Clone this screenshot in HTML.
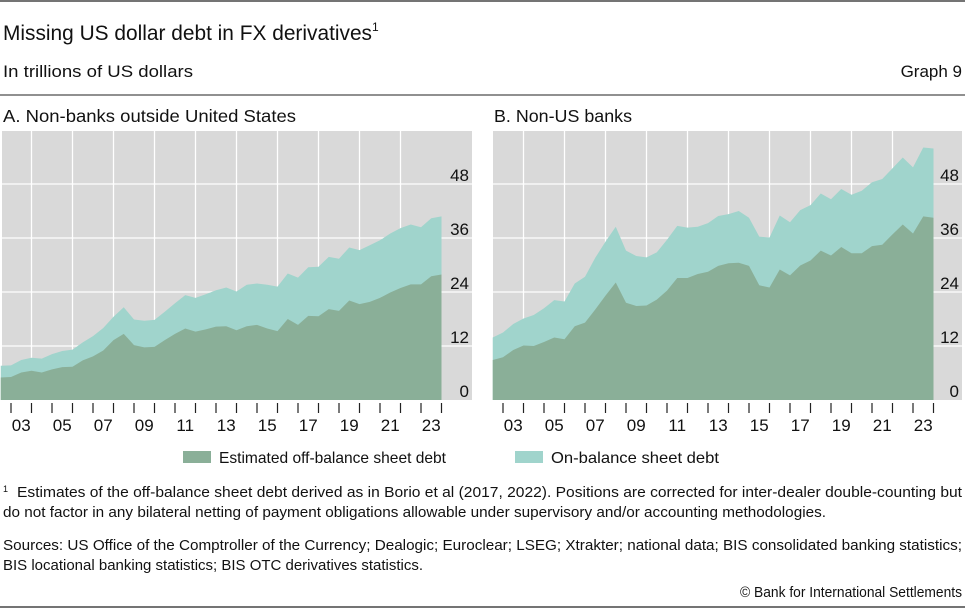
<!DOCTYPE html>
<html><head><meta charset="utf-8"><style>
body{margin:0;background:#fff;}
svg{display:block;font-family:"Liberation Sans",sans-serif;}
</style></head><body>
<svg id="c" width="965" height="610" xmlns="http://www.w3.org/2000/svg">
<line x1="0" y1="1" x2="965" y2="1" stroke="#222" stroke-width="1.2"/>
<text x="3" y="40" font-size="21" fill="#111"><tspan textLength="369" lengthAdjust="spacingAndGlyphs">Missing US dollar debt in FX derivatives</tspan><tspan font-size="12" dy="-9">1</tspan></text>
<text x="3" y="77" font-size="17" fill="#111" textLength="190" lengthAdjust="spacingAndGlyphs">In trillions of US dollars</text>
<text x="962" y="77" font-size="17" fill="#111" text-anchor="end">Graph 9</text>
<line x1="0" y1="95" x2="965" y2="95" stroke="#222" stroke-width="1"/>
<text x="3" y="122" font-size="17.5" fill="#111" textLength="293" lengthAdjust="spacingAndGlyphs">A. Non-banks outside United States</text>
<text x="494" y="122" font-size="17.5" fill="#111" textLength="138" lengthAdjust="spacingAndGlyphs">B. Non-US banks</text>
<g id="pa"></g>
<g id="pb"></g>
<rect x="183" y="451" width="28" height="12" fill="#8aaf98"/>
<text x="219" y="463" font-size="16" fill="#111" textLength="227" lengthAdjust="spacingAndGlyphs">Estimated off-balance sheet debt</text>
<rect x="515" y="451" width="28" height="12" fill="#a0d4cc"/>
<text x="551" y="463" font-size="16" fill="#111" textLength="168" lengthAdjust="spacingAndGlyphs">On-balance sheet debt</text>
<g font-size="15" fill="#111">
<text x="3" y="492" font-size="9">1</text>
<text x="17" y="497" textLength="945" lengthAdjust="spacingAndGlyphs">Estimates of the off-balance sheet debt derived as in Borio et al (2017, 2022). Positions are corrected for inter-dealer double-counting but</text>
<text x="3" y="517" textLength="823" lengthAdjust="spacingAndGlyphs">do not factor in any bilateral netting of payment obligations allowable under supervisory and/or accounting methodologies.</text>
<text x="3" y="550" textLength="959" lengthAdjust="spacingAndGlyphs">Sources: US Office of the Comptroller of the Currency; Dealogic; Euroclear; LSEG; Xtrakter; national data; BIS consolidated banking statistics;</text>
<text x="3" y="570" textLength="420" lengthAdjust="spacingAndGlyphs">BIS locational banking statistics; BIS OTC derivatives statistics.</text>
<text x="962" y="597" text-anchor="end" textLength="222" lengthAdjust="spacingAndGlyphs">© Bank for International Settlements</text>
</g>
<line x1="0" y1="607" x2="965" y2="607" stroke="#222" stroke-width="1.2"/>
</svg>
<script>
const yTicks=[0,12,24,36,48];
const xLabels=["03","05","07","09","11","13","15","17","19","21","23"];
const startYear=2002.5;
const aOff=[5.0,5.1,6.1,6.5,6.1,6.8,7.3,7.4,8.8,9.7,11.0,13.3,14.7,12.2,11.7,11.8,13.3,14.7,15.9,15.2,15.7,16.3,16.4,15.5,16.4,16.7,15.9,15.3,18.0,16.7,18.7,18.6,20.2,19.8,22.1,21.3,21.8,22.7,23.9,24.9,25.7,25.7,27.5,27.9];
const aTot=[7.6,7.7,8.9,9.4,9.2,10.2,10.9,11.2,12.8,14.2,16.0,18.5,20.6,17.9,17.6,17.8,19.6,21.5,23.3,22.7,23.5,24.4,25.0,24.1,25.6,25.9,25.6,25.2,28.1,27.2,29.5,29.6,31.8,31.4,33.9,33.3,34.4,35.5,37.0,38.2,39.0,38.4,40.4,40.8];
const bOff=[8.9,9.5,11.1,12.1,12.0,12.9,13.9,13.5,16.4,17.2,20.1,23.2,26.1,21.6,20.9,21.0,22.3,24.3,27.1,27.1,28.0,28.5,29.8,30.4,30.5,29.8,25.5,25.0,29.0,27.7,29.9,31.0,33.2,32.1,34.0,32.6,32.6,34.2,34.5,36.8,39.0,37.0,40.8,40.5];
const bTot=[13.9,15.0,16.9,18.1,18.9,20.4,22.2,21.9,25.9,27.4,31.6,35.2,38.5,33.2,32.0,31.7,32.8,35.6,38.7,38.3,38.5,39.3,40.9,41.3,42.0,40.5,36.3,36.1,41.0,39.5,42.2,43.3,45.9,44.6,46.9,45.6,46.5,48.4,49.1,51.5,53.9,51.7,56.1,55.9];
const NS="http://www.w3.org/2000/svg";
function mk(t,a,p){const e=document.createElementNS(NS,t);for(const k in a)e.setAttribute(k,a[k]);p.appendChild(e);return e;}
function panel(g,left,right,x2003,off,tot,id){
  const top=131,bottom=400;
  const xs=y=>x2003+(y-2003)*20.5;
  const ys=v=>bottom-v*4.5;
  const bg=mk('rect',{x:left,y:top,width:right-left,height:bottom-top,fill:'#d9d9d9'},g);
  
  
  for(let yr=2004;yr<=2022;yr+=2){
    const l=mk('line',{x1:xs(yr),x2:xs(yr),y1:top,y2:bottom,stroke:'#fff','stroke-width':1.3},g);
    
    
  }
  yTicks.forEach(v=>{
    if(v>0){const l=mk('line',{x1:left,x2:right,y1:ys(v),y2:ys(v),stroke:'#fff','stroke-width':1.3},g);
    
    }
  });
  const xsOf=i=>xs(startYear+i*0.5);
  const topPts=tot.map((v,i)=>xsOf(i)+','+ys(v)).join(' ');
  const offPts=off.map((v,i)=>xsOf(i)+','+ys(v)).join(' ');
  const base=xsOf(tot.length-1)+','+bottom+' '+xsOf(0)+','+bottom;
  const a1=mk('polygon',{points:topPts+' '+base,fill:'#a0d4cc'},g);
  
  
  const a2=mk('polygon',{points:offPts+' '+base,fill:'#8aaf98'},g);
  
  
  yTicks.forEach(v=>{
    const t=mk('text',{x:right-3,y:ys(v)-3,'text-anchor':'end','font-size':17,fill:'#111'},g);
    t.textContent=v;
    
    
  });
  for(let yr=2003;yr<=2024;yr++){
    const l=mk('line',{x1:xs(yr),x2:xs(yr),y1:403,y2:413,stroke:'#222','stroke-width':1.2},g);
    
    
  }
  xLabels.forEach(s=>{
    const yr=2000+parseInt(s,10);
    const t=mk('text',{x:xs(yr)+10.25,y:431,'text-anchor':'middle','font-size':17,fill:'#111'},g);
    t.textContent=s;
    
    
  });
}
panel(document.getElementById('pa'),2,472,11,aOff,aTot,'panel-a');
panel(document.getElementById('pb'),493,962,503,bOff,bTot,'panel-b');
</script>
</body></html>
